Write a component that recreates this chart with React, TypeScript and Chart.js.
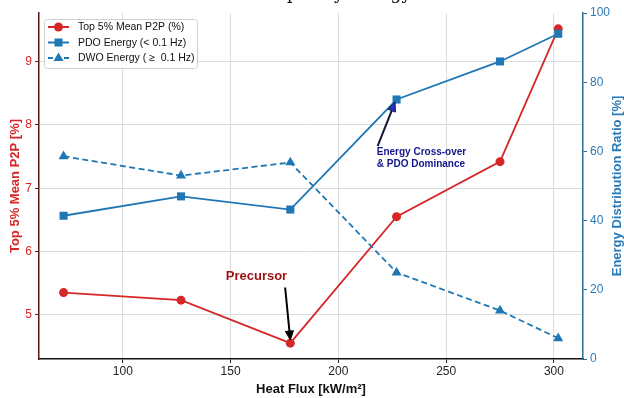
import React, { useEffect, useRef } from 'react';
import { Chart, registerables } from 'chart.js';

Chart.register(...registerables);

const heatFlux = [72.5, 127, 177.7, 227, 275, 302];
const p2pTop5 = [5.35, 5.23, 4.55, 6.55, 7.42, 9.52];
const pdoEnergy = [41.4, 47.0, 43.2, 75.0, 86.0, 94.0];
const dwoEnergy = [58.6, 53.0, 56.8, 25.0, 14.0, 6.0];
const xTicks = [100, 150, 200, 250, 300];
const leftTicks = [5, 6, 7, 8, 9];
const rightTicks = [0, 20, 40, 60, 80, 100];
const seriesLabels = ['Top 5% Mean P2P (%)', 'PDO Energy (< 0.1 Hz)', 'DWO Energy ( \u2265  0.1 Hz)'];
const titleText = 'Frequency Energy';
const xTitle = 'Heat Flux [kW/m\u00b2]';
const leftTitle = 'Top 5% Mean P2P [%]';
const rightTitle = 'Energy Distribution Ratio [%]';
const precursorNote = 'Precursor';
const crossNote = ['Energy Cross-over', '& PDO Dominance'];

const RED = '#d62728';
const BLUE = '#1f77b4';
const FONT = "'Liberation Sans', Arial, Helvetica, sans-serif";

function drawArrow(ctx: CanvasRenderingContext2D, x1: number, y1: number, x2: number, y2: number, lineColor: string, headColor: string) {
  const ang = Math.atan2(y2 - y1, x2 - x1);
  const hl = 9, hw = 4;
  const bx = x2 - Math.cos(ang) * hl;
  const by = y2 - Math.sin(ang) * hl;
  ctx.save();
  ctx.strokeStyle = lineColor;
  ctx.lineWidth = 2;
  ctx.setLineDash([]);
  ctx.beginPath();
  ctx.moveTo(x1, y1);
  ctx.lineTo(bx, by);
  ctx.stroke();
  ctx.fillStyle = headColor;
  ctx.strokeStyle = lineColor;
  ctx.lineWidth = 1;
  ctx.beginPath();
  ctx.moveTo(x2, y2);
  ctx.lineTo(bx + Math.cos(ang + Math.PI / 2) * hw, by + Math.sin(ang + Math.PI / 2) * hw);
  ctx.lineTo(bx - Math.cos(ang + Math.PI / 2) * hw, by - Math.sin(ang + Math.PI / 2) * hw);
  ctx.closePath();
  ctx.fill();
  ctx.stroke();
  ctx.restore();
}

function drawMarker(ctx: CanvasRenderingContext2D, kind: string, x: number, y: number, color: string) {
  ctx.fillStyle = color;
  ctx.beginPath();
  if (kind === 'circle') {
    ctx.arc(x, y, 4.5, 0, Math.PI * 2);
  } else if (kind === 'rect') {
    ctx.rect(x - 4, y - 4, 8, 8);
  } else {
    ctx.moveTo(x, y - 5.5);
    ctx.lineTo(x + 5, y + 3);
    ctx.lineTo(x - 5, y + 3);
    ctx.closePath();
  }
  ctx.fill();
}

const overlayPlugin = {
  id: 'overlays',
  afterDraw(chart: any) {
    const ctx: CanvasRenderingContext2D = chart.ctx;
    const xs = chart.scales.x;
    const ys = chart.scales.y;
    const y1s = chart.scales.y1;
    const area = chart.chartArea;

    // top title (mostly clipped by the top edge)
    ctx.save();
    ctx.font = "17px 'DejaVu Serif', 'Liberation Serif', serif";
    ctx.fillStyle = '#000';
    ctx.textAlign = 'right';
    ctx.textBaseline = 'alphabetic';
    ctx.fillText(titleText, 411, -1);
    ctx.restore();

    // right axis title (reads bottom to top)
    ctx.save();
    ctx.translate(617, (area.top + area.bottom) / 2);
    ctx.rotate(-Math.PI / 2);
    ctx.font = `bold 13px ${FONT}`;
    ctx.fillStyle = '#2a7ab8';
    ctx.textAlign = 'center';
    ctx.textBaseline = 'middle';
    ctx.fillText(rightTitle, 0, 0);
    ctx.restore();

    // annotations
    ctx.save();
    ctx.font = `bold 13px ${FONT}`;
    ctx.fillStyle = '#9b1111';
    ctx.textAlign = 'center';
    ctx.textBaseline = 'middle';
    ctx.fillText(precursorNote, xs.getPixelForValue(162), ys.getPixelForValue(5.6));
    drawArrow(ctx, xs.getPixelForValue(175.3), ys.getPixelForValue(5.43), xs.getPixelForValue(177.7), ys.getPixelForValue(4.6), '#000', '#000');

    ctx.font = `bold 10px ${FONT}`;
    ctx.fillStyle = '#15158a';
    ctx.textAlign = 'left';
    ctx.fillText(crossNote[0], xs.getPixelForValue(217.8), y1s.getPixelForValue(59.7));
    ctx.fillText(crossNote[1], xs.getPixelForValue(217.8), y1s.getPixelForValue(56.2));
    drawArrow(ctx, xs.getPixelForValue(218.2), y1s.getPixelForValue(61.5), xs.getPixelForValue(226.3), y1s.getPixelForValue(74.2), '#14143a', '#2233cc');
    ctx.restore();

    // legend
    ctx.save();
    const lx = 44, ly = 19, lw = 153, lh = 49;
    ctx.fillStyle = 'rgba(255,255,255,0.85)';
    ctx.strokeStyle = '#cfcfcf';
    ctx.lineWidth = 1;
    ctx.beginPath();
    (ctx as any).roundRect(lx + 0.5, ly + 0.5, lw, lh, 3);
    ctx.fill();
    ctx.stroke();
    const rows = [
      { color: RED, marker: 'circle', dash: [] as number[] },
      { color: BLUE, marker: 'rect', dash: [] as number[] },
      { color: BLUE, marker: 'triangle', dash: [5, 3] },
    ];
    ctx.font = `10.5px ${FONT}`;
    ctx.textAlign = 'left';
    ctx.textBaseline = 'middle';
    rows.forEach((r, i) => {
      const cy = ly + 8 + i * 15.5;
      ctx.strokeStyle = r.color;
      ctx.lineWidth = 2;
      ctx.setLineDash(r.dash);
      ctx.beginPath();
      ctx.moveTo(48, cy);
      ctx.lineTo(69, cy);
      ctx.stroke();
      ctx.setLineDash([]);
      drawMarker(ctx, r.marker, 58.5, cy, r.color);
      ctx.fillStyle = '#111';
      ctx.fillText(seriesLabels[i], 78, cy + 0.5);
    });
    ctx.restore();
  },
};

export default function App() {
  const ref = useRef<HTMLCanvasElement | null>(null);
  useEffect(() => {
    if (!ref.current) return;
    Chart.defaults.font.family = FONT;
    const chart = new Chart(ref.current, {
      type: 'line',
      data: {
        datasets: [
          {
            label: seriesLabels[0],
            data: heatFlux.map((x, i) => ({ x, y: p2pTop5[i] })),
            borderColor: RED,
            backgroundColor: RED,
            borderWidth: 1.8,
            pointStyle: 'circle',
            pointRadius: 4.5,
            pointBorderWidth: 0,
            yAxisID: 'y',
            order: 3,
          },
          {
            label: seriesLabels[1],
            data: heatFlux.map((x, i) => ({ x, y: pdoEnergy[i] })),
            borderColor: BLUE,
            backgroundColor: BLUE,
            borderWidth: 1.8,
            pointStyle: 'rect',
            pointRadius: 5.7,
            pointBorderWidth: 0,
            yAxisID: 'y1',
            order: 1,
          },
          {
            label: seriesLabels[2],
            data: heatFlux.map((x, i) => ({ x, y: dwoEnergy[i] })),
            borderColor: BLUE,
            backgroundColor: BLUE,
            borderWidth: 1.8,
            borderDash: [6, 3.5],
            pointStyle: 'triangle',
            pointRadius: 5.8,
            pointBorderWidth: 0,
            yAxisID: 'y1',
            order: 2,
          },
        ],
      },
      options: {
        animation: false,
        responsive: false,
        maintainAspectRatio: false,
        layout: { padding: { top: 13, left: 0, right: 0, bottom: 0 } },
        plugins: { legend: { display: false }, tooltip: { enabled: false } },
        scales: {
          x: {
            type: 'linear',
            min: 61.1,
            max: 313.5,
            afterBuildTicks: (s: any) => { s.ticks = xTicks.map((v) => ({ value: v })); },
            afterFit: (s: any) => { s.height = 39; },
            ticks: { color: '#222', font: { size: 12 }, padding: 1 },
            grid: { color: '#dcdcdc', borderDash: [1.5, 2.5], tickColor: '#222', tickLength: 4, tickBorderDash: [], tickWidth: 1 },
            border: { color: '#111', width: 1.5 },
            title: { display: true, text: xTitle, color: '#111', font: { size: 13, weight: 'bold' }, padding: { top: 0, bottom: 1 } },
          },
          y: {
            type: 'linear',
            position: 'left',
            min: 4.3,
            max: 9.77,
            afterBuildTicks: (s: any) => { s.ticks = leftTicks.map((v) => ({ value: v })); },
            afterFit: (s: any) => { s.width = 39; },
            ticks: { color: RED, font: { size: 12 }, padding: 3 },
            grid: { color: '#dcdcdc', borderDash: [1.5, 2.5], tickColor: '#333', tickLength: 4, tickBorderDash: [], tickWidth: 1 },
            border: { color: '#5a1515', width: 1.5 },
            title: { display: true, text: leftTitle, color: RED, font: { size: 13, weight: 'bold' }, padding: { top: 8, bottom: 0 } },
          },
          y1: {
            type: 'linear',
            position: 'right',
            min: 0,
            max: 100,
            afterBuildTicks: (s: any) => { s.ticks = rightTicks.map((v) => ({ value: v })); },
            afterFit: (s: any) => { s.width = 41; },
            ticks: { color: '#2a7ab8', font: { size: 12 }, padding: 3 },
            grid: { drawOnChartArea: false, tickColor: '#2f6a8f', tickLength: 4, tickWidth: 1 },
            border: { color: '#2f6a8f', width: 1.5 },
            title: { display: false },
          },
        },
      },
      plugins: [overlayPlugin],
    } as any);
    return () => chart.destroy();
  }, []);
  return (
    <div style={{ position: 'fixed', left: 0, top: 0, width: 624, height: 398, background: '#fff' }}>
      <canvas ref={ref} width={624} height={398} style={{ display: 'block', width: 624, height: 398 }} />
    </div>
  );
}
